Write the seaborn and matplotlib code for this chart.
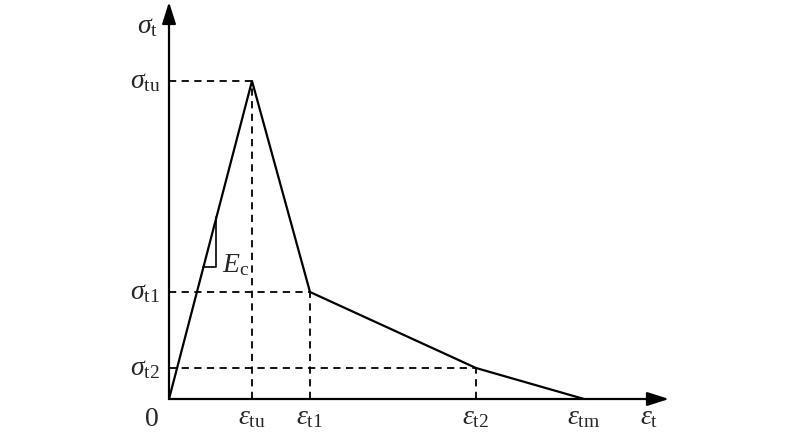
import numpy as np
import pandas as pd
import seaborn as sns
from matplotlib import pyplot as plt

# key points of the tension softening curve (arbitrary units)
strain = [0, 83, 141, 307, 415]
stress = [0, 318, 107, 31, 0]
x_labels = [r"$\varepsilon_{\rm tu}$", r"$\varepsilon_{\rm t1}$",
            r"$\varepsilon_{\rm t2}$", r"$\varepsilon_{\rm tm}$"]
y_labels = [r"$\sigma_{\rm tu}$", r"$\sigma_{\rm t1}$", r"$\sigma_{\rm t2}$"]

sns.set_theme(style="white")
plt.rcParams["font.family"] = ["Liberation Serif", "DejaVu Serif"]
plt.rcParams["mathtext.fontset"] = "custom"
plt.rcParams["mathtext.rm"] = "Liberation Serif"
plt.rcParams["mathtext.it"] = "Liberation Serif:italic"

fig = plt.figure(figsize=(8, 4.39), dpi=100)
ax = fig.add_axes([0, 0, 1, 1])
ax.set_xlim(-169, 631)
ax.set_ylim(-39, 400)
ax.axis("off")

df = pd.DataFrame({"strain": strain, "stress": stress})
sns.lineplot(data=df, x="strain", y="stress", color="black", lw=1.6,
             sort=False, ax=ax)

# axes with arrows
arrow = dict(arrowstyle="-|>,head_length=1.1,head_width=0.35", color="black",
             lw=1.6, shrinkA=0, shrinkB=0)
ax.annotate("", xy=(500, 0), xytext=(0, 0), arrowprops=arrow)
ax.annotate("", xy=(0, 397), xytext=(0, 0), arrowprops=arrow)

dash = dict(color="black", lw=1.3, ls=(0, (4, 3)))
fs = 20
for i in range(1, 4):
    ax.plot([0, strain[i]], [stress[i], stress[i]], **dash)
    ax.plot([strain[i], strain[i]], [0, stress[i]], **dash)
    ax.text(-9, stress[i], y_labels[i - 1], ha="right", va="center", fontsize=fs)

for i in range(1, 5):
    ax.text(strain[i], -18, x_labels[i - 1], ha="center", va="center", fontsize=fs)

ax.text(-17, -20, "0", ha="center", va="center", fontsize=fs)
ax.text(-21, 373, r"$\sigma_{\rm t}$", ha="center", va="center", fontsize=fs)
ax.text(480, -18, r"$\varepsilon_{\rm t}$", ha="center", va="center", fontsize=fs)

# slope marker for Ec
ax.plot([47, 47, 34], [182, 132, 132], color="black", lw=1.2)
ax.text(53, 135, r"$E_{\rm c}$", ha="left", va="center", fontsize=fs)

fig.savefig("out.png", dpi=100)
